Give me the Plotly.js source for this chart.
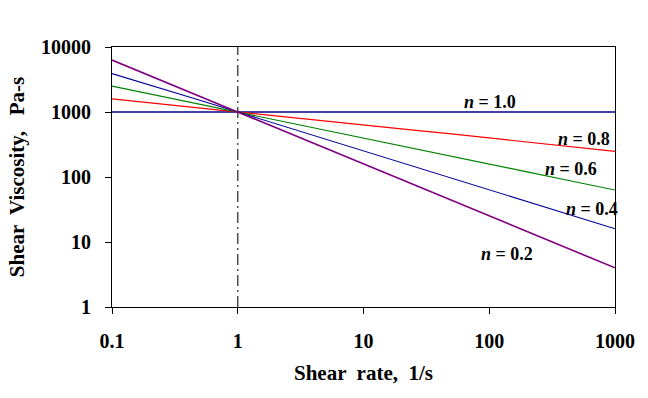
<!DOCTYPE html>
<html>
<head>
<meta charset="utf-8">
<script src="https://cdn.plot.ly/plotly-3.0.1.min.js"></script>
<style>html,body{margin:0;padding:0;background:#fff;}#chart{width:648px;height:398px;}</style>
</head>
<body>
<div id="chart"></div>
<script>
// Shear rate (1/s)
var shearRate = [0.1, 0.2, 0.5, 1, 2, 5, 10, 20, 50, 100, 200, 500, 1000];
// Shear viscosity (Pa-s) for each power-law index n
var visc_n10 = [1000, 1000, 1000, 1000, 1000, 1000, 1000, 1000, 1000, 1000, 1000, 1000, 1000];
var visc_n08 = [1590, 1380, 1150, 1000, 870, 725, 630, 550, 460, 400, 345, 290, 248];
var visc_n06 = [2500, 1900, 1320, 1000, 760, 525, 400, 300, 210, 158, 120, 83, 63];
var visc_n04 = [3900, 2630, 1520, 1000, 660, 380, 250, 165, 95, 63, 42, 24, 16];
var visc_n02 = [6300, 3620, 1740, 1000, 575, 275, 158, 91, 44, 25, 14.5, 7, 4];
var seriesLabels = ['n = 1.0', 'n = 0.8', 'n = 0.6', 'n = 0.4', 'n = 0.2'];
// Reference line at shear rate = 1
var refX = [1, 1];
var refY = [1, 10000];
// Tick labels
var xTickVals = [0.1, 1, 10, 100, 1000];
var xTickText = ['0.1', '1', '10', '100', '1000'];
var yTickVals = [1, 10, 100, 1000, 10000];
var yTickText = ['1', '10', '100', '1000', '10000'];

var font = 'Liberation Serif, Times New Roman, serif';

function series(y, color, width) {
  return {x: shearRate, y: y, type: 'scatter', mode: 'lines',
          line: {color: color, width: width}, hoverinfo: 'skip', showlegend: false};
}

var data = [
  {x: refX, y: refY, type: 'scatter', mode: 'lines',
   line: {color: '#444444', width: 1.4, dash: '11px,4px,2px,4px'}, showlegend: false, hoverinfo: 'skip'},
  series(visc_n10, '#00008B', 1.6),
  series(visc_n08, '#FF0000', 1.1),
  series(visc_n06, '#008000', 1.1),
  series(visc_n04, '#000099', 1.1),
  series(visc_n02, '#800080', 1.6)
];

function lab(text, xp, yp) {
  var parts = text.split(' = ');
  return {text: '<i>' + parts[0] + '</i> = ' + parts[1], xref: 'paper', yref: 'paper',
          x: xp, y: yp, xanchor: 'center', yanchor: 'middle', showarrow: false,
          font: {family: font, size: 18, color: '#000', weight: 'bold'}};
}

var layout = {
  width: 648, height: 398,
  margin: {l: 112, r: 33, t: 47, b: 91},
  paper_bgcolor: '#fff', plot_bgcolor: '#fff',
  font: {family: font, color: '#000'},
  xaxis: {
    type: 'log', range: [-1, 3],
    tickvals: xTickVals, ticktext: xTickText,
    ticks: 'outside', ticklen: 6, tickwidth: 1, tickcolor: '#000',
    showline: true, linecolor: '#000', linewidth: 1, mirror: true,
    showgrid: false, zeroline: false,
    ticklabelstandoff: 10,
    tickfont: {family: font, size: 20, color: '#000', weight: 'bold'},
    title: {text: 'Shear  rate,  1/s', standoff: 14,
            font: {family: font, size: 21, color: '#000', weight: 'bold'}}
  },
  yaxis: {
    type: 'log', range: [0, 4],
    tickvals: yTickVals, ticktext: yTickText,
    ticks: 'outside', ticklen: 6, tickwidth: 1, tickcolor: '#000',
    showline: true, linecolor: '#000', linewidth: 1, mirror: true,
    showgrid: false, zeroline: false,
    ticklabelstandoff: 10,
    tickfont: {family: font, size: 20, color: '#000', weight: 'bold'},
    title: {text: 'Shear  Viscosity,   Pa-s', standoff: 10,
            font: {family: font, size: 21, color: '#000', weight: 'bold'}}
  },
  annotations: [
    lab(seriesLabels[0], 0.7505, 0.7885),
    lab(seriesLabels[1], 0.9392, 0.6462),
    lab(seriesLabels[2], 0.9135, 0.5308),
    lab(seriesLabels[3], 0.9535, 0.3769),
    lab(seriesLabels[4], 0.7859, 0.2023)
  ]
};

Plotly.newPlot('chart', data, layout, {staticPlot: true, displayModeBar: false});
</script>
</body>
</html>
